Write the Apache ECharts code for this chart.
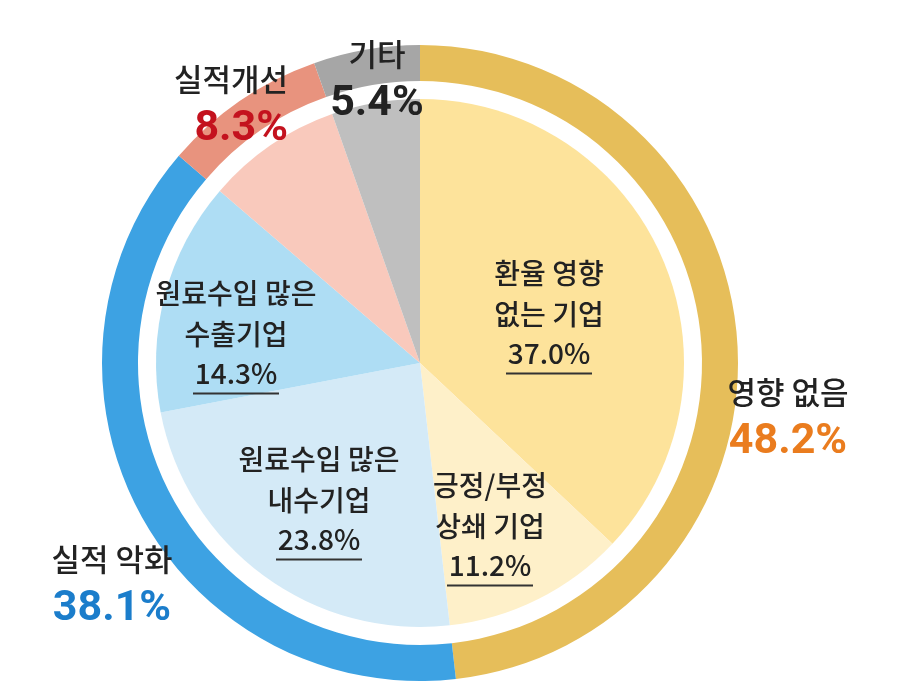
<!DOCTYPE html>
<html>
<head>
<meta charset="utf-8">
<script src="https://cdn.jsdelivr.net/npm/echarts@6/dist/echarts.min.js"></script>
<style>
  html, body { margin: 0; padding: 0; background: #fff; }
  #main { width: 900px; height: 698px; }
</style>
</head>
<body>
<div id="main"></div>
<script>
// 바깥 링 (영향 요약)
var outerNames = ['영향 없음', '실적 악화', '실적개선', '기타'];
var outerValues = [48.2, 38.1, 8.3, 5.4];

// 안쪽 파이 (세부 기업 구분)
var innerNames = [
  '환율 영향\n없는 기업',
  '긍정/부정\n상쇄 기업',
  '원료수입 많은\n내수기업',
  '원료수입 많은\n수출기업',
  '실적개선',
  '기타'
];
var innerValues = [37.0, 11.2, 23.8, 14.3, 8.3, 5.4];

// 색상
var outerColors = ['#E6BE5A', '#3DA2E3', '#E8937E', '#A6A6A6'];
var innerColors = ['#FDE39B', '#FEF0C9', '#D4EAF7', '#AEDDF4', '#F9C9BC', '#BFBFBF'];
var pctColors = ['#EA7C1E', '#1B7DCB', '#C4121E', '#222222'];

// 라벨 위치 (px)
var outerLabelPos = [
  { x: 788, y: 418, align: 'center' },
  { x: 112, y: 585, align: 'center' },
  { x: 288, y: 105, align: 'right' },
  { x: 377, y: 80, align: 'center' }
];
var innerLabelPos = [
  { x: 549, y: 314 },
  { x: 490, y: 526 },
  { x: 319, y: 500 },
  { x: 236, y: 334 }
];

var CENTER = [420, 363];
var FONT = '"Noto Sans CJK KR", "Noto Sans", sans-serif';

function outerData() {
  return outerValues.map(function (v, i) {
    return {
      name: outerNames[i],
      value: v,
      itemStyle: { color: outerColors[i] },
      label: {
        formatter: '{n|' + outerNames[i] + '}\n{p' + i + '|' + v.toFixed(1) + '%}'
      }
    };
  });
}

function innerData() {
  return innerValues.map(function (v, i) {
    var lines = innerNames[i].split('\n').map(function (t) { return '{n|' + t + '}'; });
    var show = i < 4;
    return {
      name: innerNames[i],
      value: v,
      itemStyle: { color: innerColors[i] },
      label: {
        show: show,
        formatter: lines.join('\n') + '\n{p|' + v.toFixed(1) + '%}\n{u| }'
      }
    };
  });
}

var outerRich = {
  n: { fontFamily: FONT, fontSize: 31, fontWeight: 500, color: '#222', lineHeight: 48 }
};
pctColors.forEach(function (c, i) {
  outerRich['p' + i] = { fontFamily: 'Roboto, "Liberation Sans", sans-serif', fontSize: 43, fontWeight: 'bold', color: c, lineHeight: 52 };
});

var chart = echarts.init(document.getElementById('main'));
chart.setOption({
  backgroundColor: '#ffffff',
  animation: false,
  series: [
    {
      type: 'pie',
      center: CENTER,
      radius: [282, 318],
      startAngle: 90,
      clockwise: true,
      silent: true,
      data: outerData(),
      labelLine: { show: false },
      label: {
        show: true,
        position: 'outside',
        overflow: 'none',
        rich: outerRich
      },
      labelLayout: function (p) {
        var pos = outerLabelPos[p.dataIndex];
        return { x: pos.x, y: pos.y, align: pos.align, verticalAlign: 'middle' };
      }
    },
    {
      type: 'pie',
      center: CENTER,
      radius: [0, 264],
      startAngle: 90,
      clockwise: true,
      silent: true,
      data: innerData(),
      labelLine: { show: false },
      label: {
        position: 'inside',
        overflow: 'none',
        rich: {
          n: { fontFamily: FONT, fontSize: 28, fontWeight: 500, color: '#222', lineHeight: 41, align: 'center' },
          p: { fontFamily: FONT, fontSize: 28, fontWeight: 500, color: '#222', lineHeight: 37, align: 'center' },
          u: { width: 86, height: 2, lineHeight: 4, fontSize: 2, backgroundColor: '#333', align: 'center' }
        }
      },
      labelLayout: function (p) {
        var pos = innerLabelPos[p.dataIndex];
        if (!pos) return {};
        return { x: pos.x, y: pos.y, align: 'center', verticalAlign: 'middle' };
      }
    }
  ]
});
</script>
</body>
</html>
